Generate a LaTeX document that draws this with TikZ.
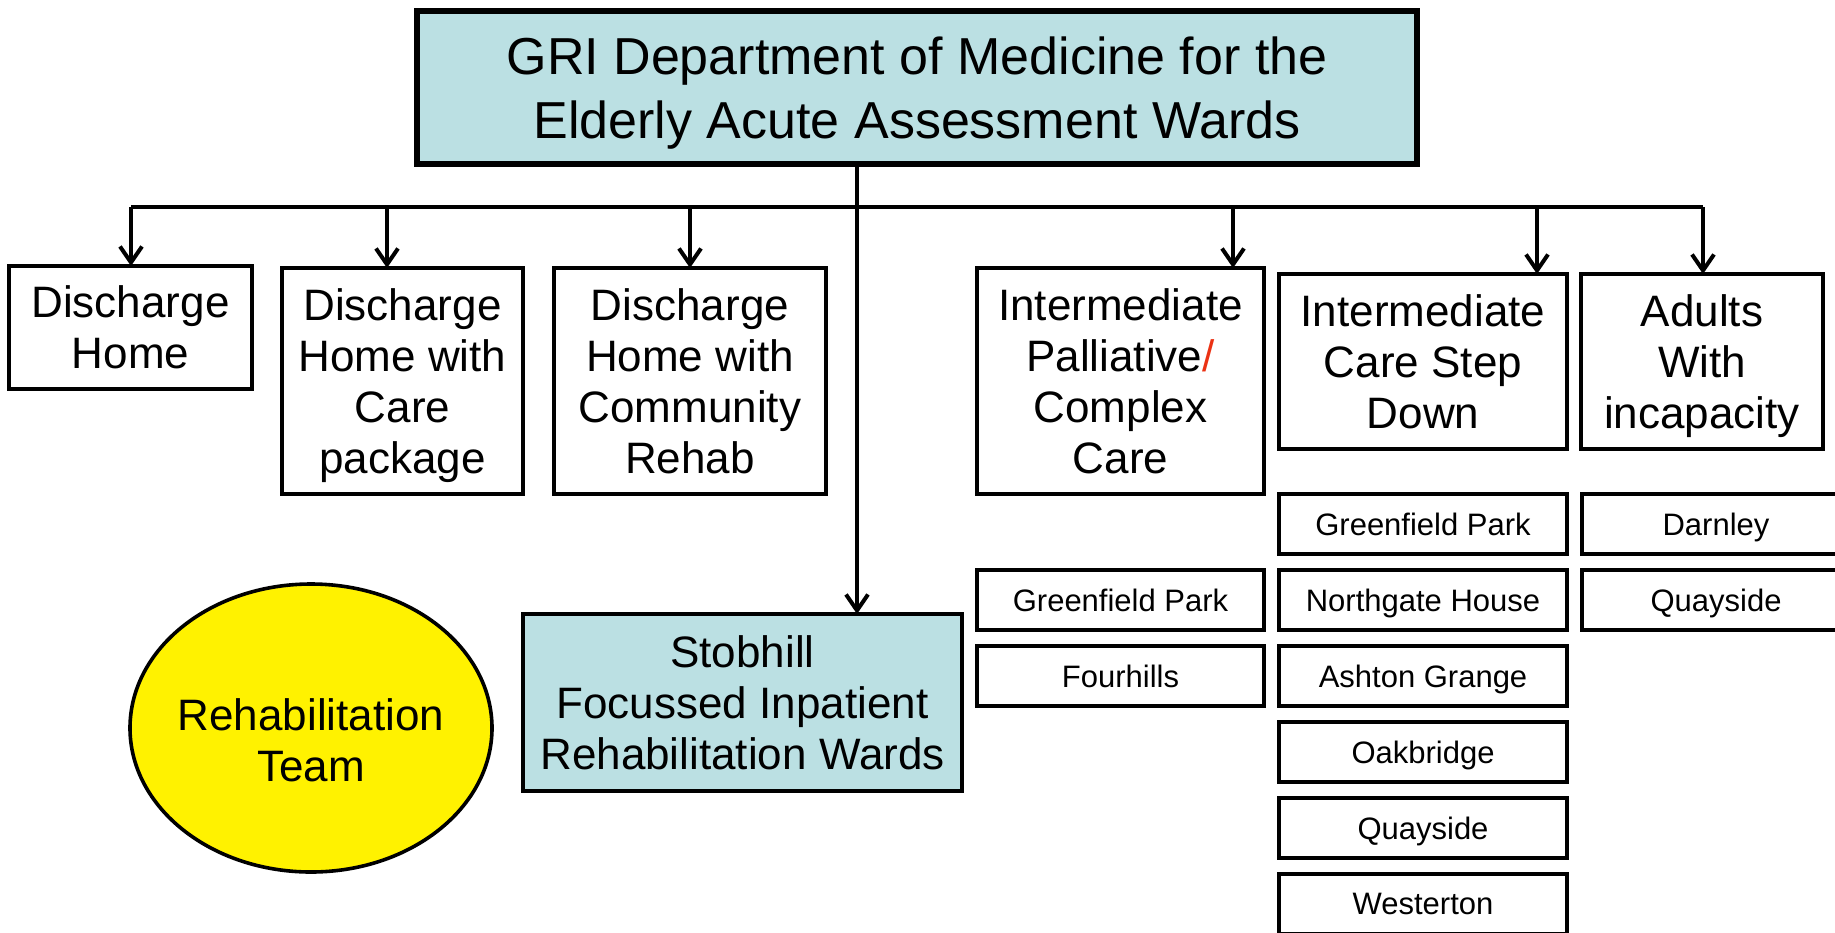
\documentclass[tikz,border=0pt]{standalone}
\usepackage{fontspec}
\setmainfont{Liberation Sans}
\usepackage{xcolor}
\usepackage{tikz}
\usetikzlibrary{positioning,shapes,arrows.meta}

\definecolor{wardblue}{RGB}{187,224,227}
\definecolor{slashred}{RGB}{235,50,20}

\begin{document}
\begin{tikzpicture}[
    x=0.5pt, y=-0.5pt,
    node distance=8pt,
    box/.style={
        rectangle, draw=black, line width=2.2pt, fill=white,
        inner sep=0pt, outer sep=0pt, align=center, text depth=0pt,
        font=\fontsize{22}{25.5}\selectfont
    },
    ward/.style={
        box, minimum width=144pt, minimum height=30pt,
        font=\fontsize{15.5}{18}\selectfont
    },
    link/.style={line width=2pt},
    arrow/.style={-{Straight Barb[length=8pt,width=11pt]}, line width=2pt}
]
\useasboundingbox (0,0) rectangle (1835,932);
\clip (0,0) rectangle (1835,932);

\node[box, fill=wardblue, line width=2.6pt, minimum width=500pt, minimum height=76.5pt,
      font=\fontsize{26}{32}\selectfont] (gri) at (917,87.5)
      {GRI Department of Medicine for the\\Elderly Acute Assessment Wards};

\node[box, minimum width=121.5pt, minimum height=61.5pt] (home) at (130.5,327.5) {Discharge\\Home};
\node[box, minimum width=120.5pt, minimum height=113pt] (care) at (402.5,381) {Discharge\\Home with\\Care\\package};
\node[box, minimum width=136pt, minimum height=113pt] (comm) at (690,381) {Discharge\\Home with\\Community\\Rehab};
\node[box, minimum width=143.5pt, minimum height=113pt] (ipcc) at (1120.5,381)
      {Intermediate\\Palliative{\color{slashred}/}\\Complex\\Care};
\node[box, minimum width=144pt, minimum height=87.5pt] (icsd) at (1423,361.5) {Intermediate\\Care Step\\Down};
\node[box, minimum width=121pt, minimum height=87.5pt] (awi) at (1702,361.5) {Adults\\With\\incapacity};

\node[box, fill=wardblue, minimum width=219.5pt, minimum height=88.5pt] (stob) at (742.5,702.5)
      {Stobhill\\Focussed Inpatient\\Rehabilitation Wards};
\node[box, ellipse, fill=yellow, line width=1.8pt, inner xsep=-3.5pt, text height=53pt,
      minimum width=181pt, minimum height=144pt] (team) at (311,728)
      {Rehabilitation\\Team};

% wards under each service
\node[ward, minimum width=143.5pt] (ipgreen) at (1120.5,600) {Greenfield Park};
\node[ward, minimum width=143.5pt, below=of ipgreen] (fourhills) {Fourhills};

\node[ward] (icgreen) at (1423,524) {Greenfield Park};
\node[ward, below=of icgreen] (northgate) {Northgate House};
\node[ward, below=of northgate] (ashton) {Ashton Grange};
\node[ward, below=of ashton] (oakbridge) {Oakbridge};
\node[ward, below=of oakbridge] (icquay) {Quayside};
\node[ward, below=of icquay] (westerton) {Westerton};

\node[ward, minimum width=134pt] (darnley) at (1716,524) {Darnley};
\node[ward, minimum width=134pt, below=of darnley] (awquay) {Quayside};

\coordinate (d1) at (131,207);
\coordinate (d2) at (387,207);
\coordinate (d3) at (690,207);
\coordinate (trunk) at (857,207);
\coordinate (d4) at (1233,207);
\coordinate (d5) at (1537,207);
\coordinate (d6) at (1703,207);

\draw[link] (d1) -- (d6);
\draw[arrow] (gri.south -| trunk) -- (stob.north -| trunk);
\draw[arrow] (d1) -- (home.north -| d1);
\draw[arrow] (d2) -- (care.north -| d2);
\draw[arrow] (d3) -- (comm.north -| d3);
\draw[arrow] (d4) -- (ipcc.north -| d4);
\draw[arrow] (d5) -- (icsd.north -| d5);
\draw[arrow] (d6) -- (awi.north -| d6);

\end{tikzpicture}
\end{document}
